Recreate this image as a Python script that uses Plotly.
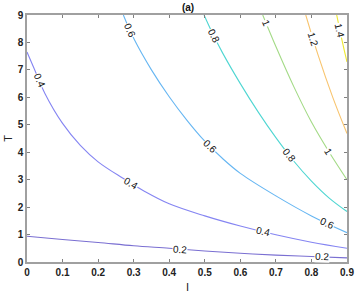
import numpy as np
import plotly.graph_objects as go

# contour levels and their colours
levels = [0.2, 0.4, 0.6, 0.8, 1.0, 1.2, 1.4]
level_text = ["0.2", "0.4", "0.6", "0.8", "1", "1.2", "1.4"]
colors = ["#7a6fd2", "#8585f2", "#66b6f2", "#4fd6d2", "#a3da86", "#f8c46e", "#eee830"]

# points (I, T)
I_02 = [0.0, 0.1, 0.2, 0.3, 0.4, 0.5, 0.6, 0.7, 0.8, 0.9]
T_02 = [0.94, 0.82, 0.71, 0.59, 0.50, 0.40, 0.32, 0.25, 0.20, 0.15]
I_04 = [0.0, 0.02, 0.05, 0.1, 0.15, 0.2, 0.27, 0.33, 0.4, 0.5, 0.6, 0.7, 0.8, 0.9]
T_04 = [7.65, 7.05, 6.15, 5.05, 4.25, 3.65, 3.05, 2.58, 2.12, 1.68, 1.31, 0.99, 0.72, 0.50]
I_06 = [0.271, 0.3, 0.35, 0.4, 0.45, 0.5, 0.55, 0.6, 0.7, 0.8, 0.9]
T_06 = [9.0, 8.15, 7.0, 6.02, 5.16, 4.4, 3.77, 3.23, 2.41, 1.68, 1.07]
I_08 = [0.498, 0.52, 0.55, 0.6, 0.65, 0.7, 0.75, 0.8, 0.85, 0.9]
T_08 = [9.0, 8.38, 7.62, 6.5, 5.47, 4.53, 3.68, 2.95, 2.33, 1.84]
I_10 = [0.663, 0.7, 0.75, 0.8, 0.85, 0.9]
T_10 = [9.0, 7.85, 6.4, 5.1, 4.0, 3.0]
I_12 = [0.784, 0.819, 0.86, 0.9]
T_12 = [9.0, 7.53, 6.0, 4.68]
I_14 = [0.871, 0.889, 0.9]
T_14 = [9.0, 7.9, 7.29]

curves = [(I_02, T_02), (I_04, T_04), (I_06, T_06), (I_08, T_08),
          (I_10, T_10), (I_12, T_12), (I_14, T_14)]

# inline contour labels: (level index, I)
label_level = [0, 0, 1, 1, 1, 2, 2, 2, 3, 3, 4, 4, 5, 6]
label_I = [0.43, 0.83, 0.035, 0.293, 0.665, 0.29, 0.515, 0.845, 0.525, 0.738, 0.673, 0.848, 0.805, 0.88]

x_ticks = [0, 0.1, 0.2, 0.3, 0.4, 0.5, 0.6, 0.7, 0.8, 0.9]
x_tick_text = ["0", "0.1", "0.2", "0.3", "0.4", "0.5", "0.6", "0.7", "0.8", "0.9"]
y_ticks = list(range(0, 10))

W, H = 363, 292
ml, mr, mt, mb = 27, 9, 15, 30
pw, ph = W - ml - mr, H - mt - mb
sx = pw / 0.9
sy = ph / 9.0
FONT = "Liberation Sans, Arial, sans-serif"

fig = go.Figure()
for (xs, ys), c in zip(curves, colors):
    fig.add_trace(go.Scatter(x=xs, y=ys, mode="lines",
                             line=dict(color=c, width=1.1, shape="spline", smoothing=1.0),
                             hoverinfo="skip", showlegend=False))

for li, lx in zip(label_level, label_I):
    xs, ys = np.array(curves[li][0]), np.array(curves[li][1])
    ly = float(np.interp(lx, xs, ys))
    d = 0.01
    y1 = np.interp(lx - d, xs, ys); y2 = np.interp(lx + d, xs, ys)
    slope = (y2 - y1) / (2 * d)
    ang = float(np.degrees(np.arctan(-slope * sy / sx)))
    fig.add_annotation(x=lx, y=ly, text=level_text[li], showarrow=False,
                       textangle=ang, bgcolor="white", borderpad=0,
                       font=dict(size=10, color="#111", family=FONT))

axis_common = dict(showgrid=False, zeroline=False, showline=True, linecolor="#a0a0a0",
                   linewidth=1.5, mirror="ticks", ticks="inside", ticklen=3,
                   tickcolor="#808080", ticklabeloverflow="allow",
                   tickfont=dict(size=10, color="#222", family=FONT, weight="bold"))

fig.update_xaxes(range=[0, 0.9], tickvals=x_ticks, ticktext=x_tick_text, **axis_common)
fig.update_yaxes(range=[0, 9], tickvals=y_ticks, **axis_common)

# axis titles and panel title
fig.add_annotation(text="I", xref="paper", yref="paper", x=0.5, y=-0.07, yanchor="top",
                   showarrow=False, font=dict(size=11, color="#222", family=FONT))
fig.add_annotation(text="T", xref="paper", yref="paper", x=-0.062, y=0.5, xanchor="center",
                   textangle=-90, showarrow=False, font=dict(size=11, color="#222", family=FONT))

fig.update_layout(width=W, height=H, margin=dict(l=ml, r=mr, t=mt, b=mb),
                  plot_bgcolor="white", paper_bgcolor="white",
                  title=dict(text="<b>(a)</b>", x=0.518, xanchor="center", y=1 - 7 / H,
                             yanchor="middle",
                             font=dict(size=10, color="#111", family=FONT)))

fig.write_html("out.html", config={"displayModeBar": False},
               post_script="document.body.style.margin='0';")
